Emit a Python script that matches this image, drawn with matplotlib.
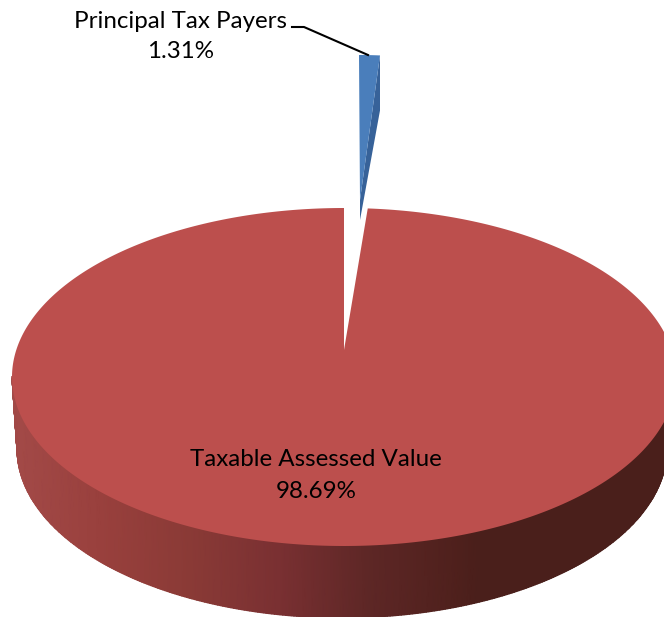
import numpy as np
import matplotlib
matplotlib.use('Agg')
import matplotlib.pyplot as plt
from matplotlib.colors import LinearSegmentedColormap
from matplotlib.patches import Polygon

labels = ['Principal Tax Payers', 'Taxable Assessed Value']
shares = [1.31, 98.69]
share_text = ['1.31%', '98.69%']

# side shading of the big slice, left to right
side_colors = ['#a34a48', '#99403d', '#8a3a36', '#7a3032', '#5e2726', '#4e201c', '#4a1f1b']
blue_top = '#4a7ebb'
blue_side = '#376299'
red_top = '#bc4f4d'

plt.rcParams['font.family'] = ['Lato', 'DejaVu Sans']

fig = plt.figure(figsize=(6.64, 6.17), dpi=100)
ax = fig.add_axes([0, 0, 1, 1])
ax.set_xlim(0, 664)
ax.set_ylim(617, 0)
ax.axis('off')

# tilted pie, sizes in pixels
cx, cy = 344, 377
rx, ry = 332, 169
apex = (344, 350)
# lower edge of the wall is a slightly narrower ellipse
low_cx, low_cy = 342, 449
low_rx = 325
squeeze = 0.87  # perspective narrows the small slice on the rim


def rim(t):
    t = np.radians(t)
    return cx + rx * np.cos(t), cy - ry * np.sin(t)


def low_rim(t):
    t = np.radians(t)
    return low_cx + low_rx * np.cos(t), low_cy - ry * np.sin(t)


gap = shares[0] / 100 * 360 * squeeze
start = 90 - gap

# side wall of the red slice
stops = [0, 0.19, 0.38, 0.57, 0.76, 0.96, 1]
side_cmap = LinearSegmentedColormap.from_list('side', list(zip(stops, side_colors)))
steps = np.linspace(180, 360, 361)
top_x, top_y = rim(steps)
bot_x, bot_y = low_rim(steps)
mesh_x = np.vstack([top_x, bot_x])
mesh_y = np.vstack([top_y - 1, bot_y])
shade = np.clip((mesh_x - 12) / (480 - 12), 0, 1)
ax.pcolormesh(mesh_x, mesh_y, shade, cmap=side_cmap, vmin=0, vmax=1, shading='gouraud')

# top face of the red slice
t = np.linspace(start, 90 - 360, 400)
rx_pts, ry_pts = rim(t)
ax.add_patch(Polygon(np.vstack([apex, np.column_stack([rx_pts, ry_pts])]),
                     closed=True, fc=red_top, ec='none'))

# small slice pulled out of the pie
dx, dy = 15, -153
shrink = 21 / (rx * np.cos(np.radians(start)))
t = np.linspace(90, start, 10)
bx = apex[0] + dx + (rim(t)[0] - cx) * shrink
by = rim(t)[1] + dy
tip = (apex[0] + dx + 1, apex[1] + dy + 3)
ax.add_patch(Polygon([(bx[-1], by[-1]), (bx[-1], by[-1] + 55), (tip[0], tip[1] + 20), tip],
                     closed=True, fc=blue_side, ec='none'))
ax.add_patch(Polygon(np.vstack([tip, np.column_stack([bx, by])]),
                     closed=True, fc=blue_top, ec='none'))

# labels
ax.text(181, 21, labels[0], ha='center', va='center', fontsize=17.4, color='black')
ax.text(181, 52, share_text[0], ha='center', va='center', fontsize=17.4, color='black')
ax.text(316, 459, labels[1], ha='center', va='center', fontsize=17.4, color='black')
ax.text(316, 491, share_text[1], ha='center', va='center', fontsize=17.4, color='black')
ax.plot([292, 304, 368], [27, 27, 55], color='black', lw=1.5)

fig.savefig('out.png', dpi=100)
